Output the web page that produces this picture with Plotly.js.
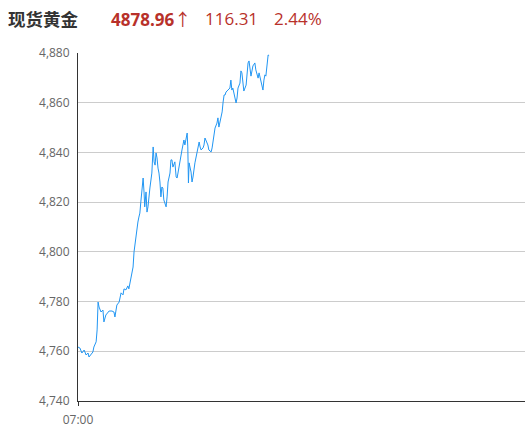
<!DOCTYPE html>
<html>
<head>
<meta charset="utf-8">
<script src="https://cdn.plot.ly/plotly-3.0.1.min.js"></script>
<style>
  html, body { margin: 0; padding: 0; background: #fff; }
  #chart { width: 525px; height: 438px; }
</style>
</head>
<body>
<div id="chart"></div>
<script>
// 现货黄金 分时数据
const tradeDate = '2026-01-05';
const sessionStart = '07:00';
const sessionEnd = '2026-01-06 06:00';

const times = [
  '07:00','07:06','07:12','07:19','07:25','07:31','07:34','07:40','07:46','07:49',
  '07:56','07:59','08:02','08:05','08:11','08:17','08:20','08:26','08:33','08:36',
  '08:45','08:51','08:54','09:00','09:07','09:10','09:13','09:19','09:22','09:28',
  '09:34','09:37','09:41','09:47','09:50','09:53','09:59','10:02','10:05','10:08',
  '10:11','10:14','10:18','10:21','10:24','10:26','10:30','10:33','10:36','10:39',
  '10:42','10:48','10:52','10:55','10:58','11:01','11:04','11:07','11:10','11:13',
  '11:16','11:19','11:22','11:25','11:32','11:35','11:38','11:44','11:47','11:50',
  '11:53','11:59','12:03','12:06','12:09','12:15','12:18','12:21','12:24','12:27',
  '12:30','12:33','12:37','12:39','12:41','12:43','12:49','12:52','12:55','13:01',
  '13:04','13:07','13:14','13:17','13:20','13:26','13:29','13:32','13:38','13:41',
  '13:44','13:51','13:54','13:57','14:03','14:09','14:12','14:15','14:18','14:25',
  '14:28','14:31','14:34','14:37','14:43','14:49','14:52','14:55','14:58','15:05',
  '15:08','15:11','15:14','15:20','15:23','15:26','15:29','15:32','15:39','15:42',
  '15:45','15:48','15:51','15:54','16:00','16:03','16:06','16:09','16:13','16:16',
  '16:19','16:25','16:28','16:31','16:34','16:37','16:40','16:43','16:47','16:50'
];

const prices = [
  4761.7,4761.3,4759.3,4760.5,4758.5,4759.3,4757.7,4758.9,4759.7,4761.7,
  4763.8,4768.6,4779.8,4777.8,4775.8,4776.6,4771.8,4774.6,4775.8,4776.2,
  4776.2,4775.8,4773.8,4778.6,4779.8,4781.9,4783.5,4782.7,4785.1,4784.7,
  4786.3,4785.1,4787.9,4791.5,4793.9,4800.0,4806.8,4808.0,4812.0,4814.0,
  4815.6,4820.1,4824.9,4829.7,4823.7,4818.1,4824.1,4816.0,4818.1,4820.9,
  4825.7,4831.7,4842.2,4836.2,4834.9,4839.8,4837.8,4833.7,4831.7,4828.1,
  4822.1,4826.1,4825.7,4820.9,4818.1,4822.1,4828.1,4831.7,4837.0,4837.0,
  4834.1,4836.2,4830.1,4829.7,4832.1,4837.0,4840.2,4841.0,4843.0,4845.0,
  4843.0,4845.8,4847.8,4842.2,4827.7,4835.8,4832.1,4828.1,4830.1,4835.8,
  4837.8,4841.0,4844.2,4842.2,4841.0,4841.8,4843.0,4845.8,4844.2,4843.0,
  4841.0,4840.2,4841.8,4844.2,4849.8,4851.8,4853.9,4850.2,4852.2,4856.3,
  4860.3,4863.1,4863.1,4864.3,4865.1,4865.9,4869.1,4865.1,4865.9,4861.9,
  4859.9,4861.9,4865.9,4867.9,4872.8,4872.0,4868.7,4864.7,4867.1,4871.2,
  4876.0,4876.8,4873.2,4870.7,4874.8,4875.2,4876.0,4873.2,4870.7,4869.9,
  4872.0,4869.1,4867.1,4865.1,4869.1,4871.2,4870.7,4875.2,4879.2,4878.96
];

const quoteName = '现货黄金';
const lastPrice = '4878.96';
const change = '116.31';
const changePct = '2.44%';

const yTicks = [4740, 4760, 4780, 4800, 4820, 4840, 4860, 4880];

const trace = {
  type: 'scatter',
  mode: 'lines',
  x: times.map(t => tradeDate + ' ' + t),
  y: prices,
  line: { color: '#2196f3', width: 1 },
  hoverinfo: 'x+y',
  showlegend: false
};

const red = '#b8312a';
const headerY = 1.098;
const tickFont = { family: '"Open Sans", sans-serif', size: 12, color: '#666' };
const headFont = { size: 17, color: red, family: '"Open Sans", sans-serif' };

const layout = {
  width: 525,
  height: 438,
  margin: { l: 78, r: 0, t: 53, b: 37 },
  paper_bgcolor: '#fff',
  plot_bgcolor: '#fff',
  font: { family: '"Open Sans", "Noto Sans CJK SC", sans-serif', size: 12, color: '#666' },
  xaxis: {
    type: 'date',
    range: [tradeDate + ' ' + sessionStart, sessionEnd],
    tickvals: [tradeDate + ' ' + sessionStart],
    ticktext: [sessionStart],
    showgrid: false,
    zeroline: false,
    showline: true,
    linecolor: '#333',
    linewidth: 1,
    ticks: 'outside',
    ticklen: 4,
    tickcolor: '#333',
    ticklabelstandoff: 4,
    tickfont: tickFont
  },
  yaxis: {
    range: [4740, 4880],
    tickvals: yTicks,
    tickformat: ',d',
    showgrid: true,
    gridcolor: '#cccccc',
    gridwidth: 1,
    zeroline: false,
    showline: true,
    linecolor: '#333',
    linewidth: 1,
    ticks: '',
    ticklabelstandoff: 5,
    tickfont: tickFont
  },
  annotations: [
    { xref: 'paper', yref: 'paper', x: -0.16, y: headerY, xanchor: 'left', yanchor: 'middle',
      text: '<b>' + quoteName + '</b>', showarrow: false,
      font: { size: 17.5, color: '#333', family: '"Noto Sans CJK SC", sans-serif' } },
    { xref: 'paper', yref: 'paper', x: 0.07, y: headerY, xanchor: 'left', yanchor: 'middle',
      text: '<b>' + lastPrice + '</b><span style="font-family:\'Noto Sans CJK SC\'">↑</span>', showarrow: false,
      font: headFont },
    { xref: 'paper', yref: 'paper', x: 0.279, y: headerY, xanchor: 'left', yanchor: 'middle',
      text: change, showarrow: false, font: headFont },
    { xref: 'paper', yref: 'paper', x: 0.434, y: headerY, xanchor: 'left', yanchor: 'middle',
      text: changePct, showarrow: false, font: headFont }
  ]
};

Plotly.newPlot('chart', [trace], layout, { displayModeBar: false, staticPlot: true });
</script>
</body>
</html>
